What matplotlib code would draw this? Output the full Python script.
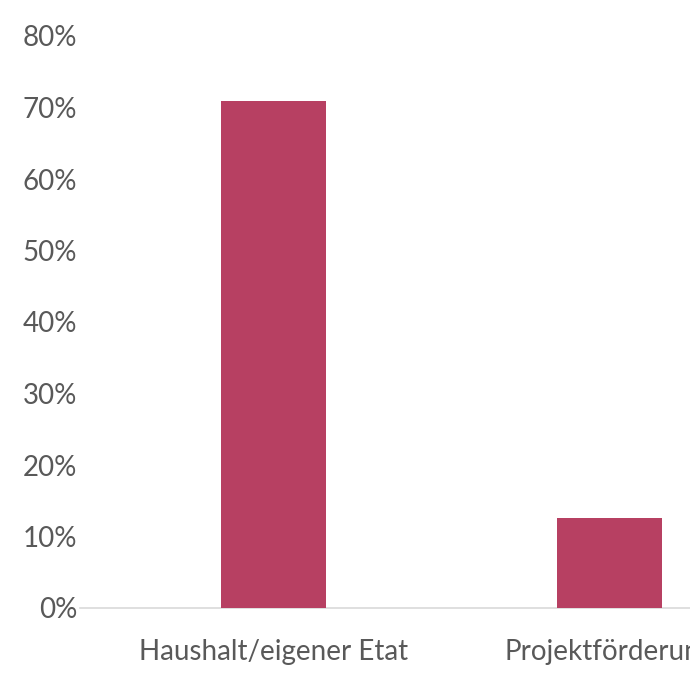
import numpy as np
import matplotlib
matplotlib.use('Agg')
import matplotlib.pyplot as plt
from matplotlib.ticker import FuncFormatter

# data
categories = ['Haushalt/eigener Etat', 'Projektförderung']
values = [70.9, 12.6]
yticks = [0, 10, 20, 30, 40, 50, 60, 70, 80]

plt.rcParams['font.family'] = ['Lato', 'DejaVu Sans']

fig = plt.figure(figsize=(6.9, 6.9), dpi=100)
fig.patch.set_facecolor('white')
ax = fig.add_axes([80/690, 82/690, 610/690, 572/690])

x = np.arange(len(categories))
ax.bar(x, values, width=0.3125, color='#b74062', zorder=3)

ax.set_xlim(-0.576, 1.24)
ax.set_ylim(0, 80)
ax.set_yticks(yticks)
ax.yaxis.set_major_formatter(FuncFormatter(lambda v, p: '%d%%' % v))
ax.set_xticks(x)
ax.set_xticklabels(categories)

for s in ['top', 'right', 'left']:
    ax.spines[s].set_visible(False)
ax.spines['bottom'].set_color('#d9d9d9')
ax.spines['bottom'].set_linewidth(1.2)
ax.tick_params(axis='both', length=0, labelsize=20, colors='#595959')
ax.tick_params(axis='y', pad=2)
ax.tick_params(axis='x', pad=22)

fig.savefig('out.png', dpi=100)
